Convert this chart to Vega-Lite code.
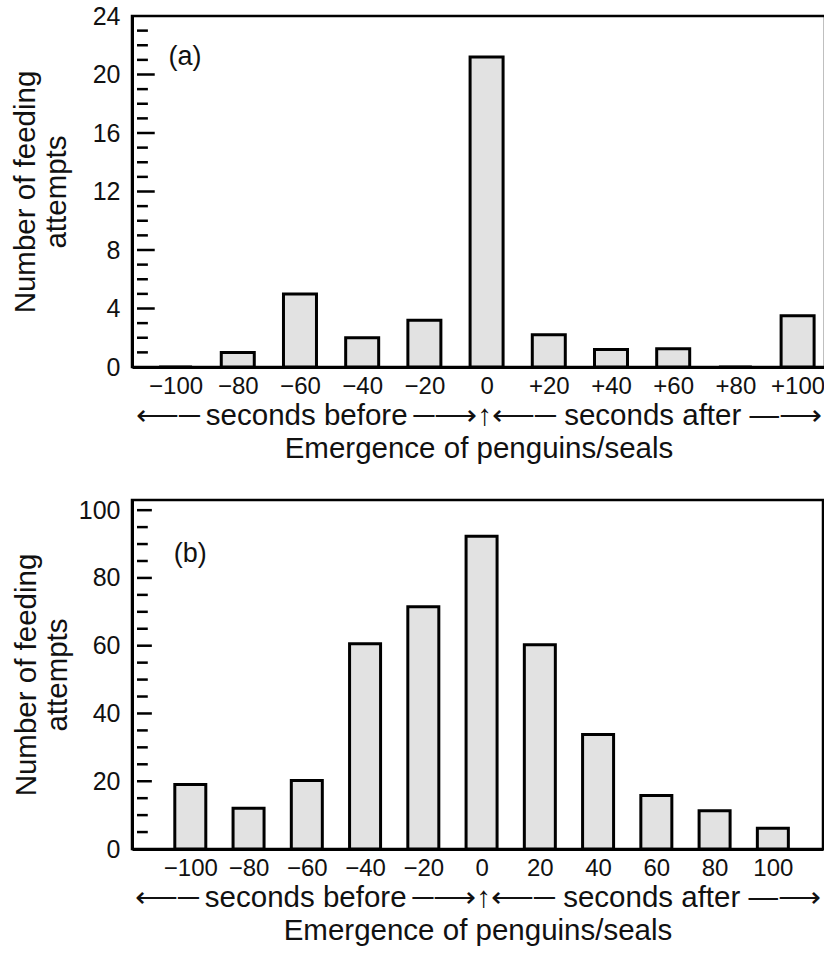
{
  "$schema": "https://vega.github.io/schema/vega-lite/v6.json",
  "background": "white",
  "padding": {"left": 8, "top": 2, "right": 0, "bottom": 0},
  "config": {
    "font": "Liberation Sans",
    "view": {"stroke": "black", "strokeWidth": 2.5},
    "axis": {"domainColor": "black", "domainWidth": 3, "tickColor": "black", "tickWidth": 2.5, "labelColor": "#111", "titleColor": "#111", "labelFontSize": 25, "titleFontSize": 29.5, "titleFontWeight": "normal", "grid": false, "labelFont": "Liberation Sans", "titleFont": "Liberation Sans"},
    "concat": {"spacing": 32}
  },
  "vconcat": [
    {
      "width": 693,
      "height": 351,
      "layer": [
        {
          "data": {"values": [
            {"seconds": -100, "attempts": 0},
            {"seconds": -80, "attempts": 1},
            {"seconds": -60, "attempts": 5},
            {"seconds": -40, "attempts": 2},
            {"seconds": -20, "attempts": 3.2},
            {"seconds": 0, "attempts": 21.2},
            {"seconds": 20, "attempts": 2.2},
            {"seconds": 40, "attempts": 1.2},
            {"seconds": 60, "attempts": 1.25},
            {"seconds": 80, "attempts": 0},
            {"seconds": 100, "attempts": 3.5}
          ]},
          "mark": {"type": "bar", "width": 33, "fill": "#e2e2e2", "stroke": "black", "strokeWidth": 3},
          "encoding": {
            "x": {"field": "seconds", "type": "quantitative",
              "scale": {"domain": [-112.4, 107.2], "nice": false, "zero": false},
              "axis": {"values": [-100, -80, -60, -40, -20, 0, 20, 40, 60, 80, 100], "ticks": false, "labelPadding": 7, "labelFlush": false, "labelFontSize": 24,
                "labelExpr": "datum.value > 0 ? '+' + datum.label + '\u2007' : (datum.value < 0 ? datum.label + '\u2007' : datum.label)",
                "title": ["⟵─\u2009seconds before\u2009─⟶↑⟵─ seconds after —⟶", "Emergence of penguins/seals"],
                "titlePadding": 3, "titleLineHeight": 33}},
            "y": {"field": "attempts", "type": "quantitative",
              "scale": {"domain": [0, 24], "nice": false},
              "axis": {"values": [0, 4, 8, 12, 16, 20, 24], "ticks": false, "labelPadding": 12,
                "title": ["Number of feeding", "attempts"], "titleLineHeight": 31, "titlePadding": 21}}
          }
        },
        {
          "data": {"values": [{"tick": 1}, {"tick": 2}, {"tick": 3}, {"tick": 5}, {"tick": 6}, {"tick": 7}, {"tick": 9}, {"tick": 10}, {"tick": 11}, {"tick": 13}, {"tick": 14}, {"tick": 15}, {"tick": 17}, {"tick": 18}, {"tick": 19}, {"tick": 21}, {"tick": 22}, {"tick": 23}]},
          "mark": {"type": "rule", "color": "black", "strokeWidth": 2.5},
          "encoding": {
            "x": {"datum": -112.4},
            "x2": {"datum": -108.9},
            "y": {"field": "tick", "type": "quantitative"}
          }
        },
        {
          "data": {"values": [{"tick": 4}, {"tick": 8}, {"tick": 12}, {"tick": 16}, {"tick": 20}]},
          "mark": {"type": "rule", "color": "black", "strokeWidth": 2.5},
          "encoding": {
            "x": {"datum": -112.4},
            "x2": {"datum": -106.7},
            "y": {"field": "tick", "type": "quantitative"}
          }
        },
        {
          "data": {"values": [{"label": "(a)"}]},
          "mark": {"type": "text", "fontSize": 27, "align": "center", "baseline": "middle", "color": "#111"},
          "encoding": {
            "x": {"datum": -97},
            "y": {"datum": 21.2},
            "text": {"field": "label"}
          }
        }
      ]
    },
    {
      "width": 691,
      "height": 349,
      "layer": [
        {
          "data": {"values": [
            {"seconds": -100, "attempts": 19},
            {"seconds": -80, "attempts": 12},
            {"seconds": -60, "attempts": 20.2},
            {"seconds": -40, "attempts": 60.6},
            {"seconds": -20, "attempts": 71.5},
            {"seconds": 0, "attempts": 92.3},
            {"seconds": 20, "attempts": 60.3},
            {"seconds": 40, "attempts": 33.8},
            {"seconds": 60, "attempts": 15.8},
            {"seconds": 80, "attempts": 11.3},
            {"seconds": 100, "attempts": 6.1}
          ]},
          "mark": {"type": "bar", "width": 31, "fill": "#e2e2e2", "stroke": "black", "strokeWidth": 3},
          "encoding": {
            "x": {"field": "seconds", "type": "quantitative",
              "scale": {"domain": [-118.3, 115.5], "nice": false, "zero": false},
              "axis": {"values": [-100, -80, -60, -40, -20, 0, 20, 40, 60, 80, 100], "ticks": false, "labelPadding": 7, "labelFlush": false, "labelFontSize": 24,
                "labelExpr": "datum.value < 0 ? datum.label + '\u2007' : datum.label",
                "title": ["⟵─\u2009seconds before\u2009─⟶↑⟵─ seconds after —⟶", "Emergence of penguins/seals"],
                "titlePadding": 3, "titleLineHeight": 33}},
            "y": {"field": "attempts", "type": "quantitative",
              "scale": {"domain": [0, 103], "nice": false},
              "axis": {"values": [0, 20, 40, 60, 80, 100], "ticks": false, "labelPadding": 12,
                "title": ["Number of feeding", "attempts"], "titleLineHeight": 31, "titlePadding": 6}}
          }
        },
        {
          "data": {"values": [{"tick": 5}, {"tick": 10}, {"tick": 15}, {"tick": 25}, {"tick": 30}, {"tick": 35}, {"tick": 45}, {"tick": 50}, {"tick": 55}, {"tick": 65}, {"tick": 70}, {"tick": 75}, {"tick": 85}, {"tick": 90}, {"tick": 95}]},
          "mark": {"type": "rule", "color": "black", "strokeWidth": 2.5},
          "encoding": {
            "x": {"datum": -118.3},
            "x2": {"datum": -114.6},
            "y": {"field": "tick", "type": "quantitative"}
          }
        },
        {
          "data": {"values": [{"tick": 20}, {"tick": 40}, {"tick": 60}, {"tick": 80}, {"tick": 100}]},
          "mark": {"type": "rule", "color": "black", "strokeWidth": 2.5},
          "encoding": {
            "x": {"datum": -118.3},
            "x2": {"datum": -113.2},
            "y": {"field": "tick", "type": "quantitative"}
          }
        },
        {
          "data": {"values": [{"label": "(b)"}]},
          "mark": {"type": "text", "fontSize": 27, "align": "center", "baseline": "middle", "color": "#111"},
          "encoding": {
            "x": {"datum": -100},
            "y": {"datum": 87},
            "text": {"field": "label"}
          }
        }
      ]
    }
  ]
}
